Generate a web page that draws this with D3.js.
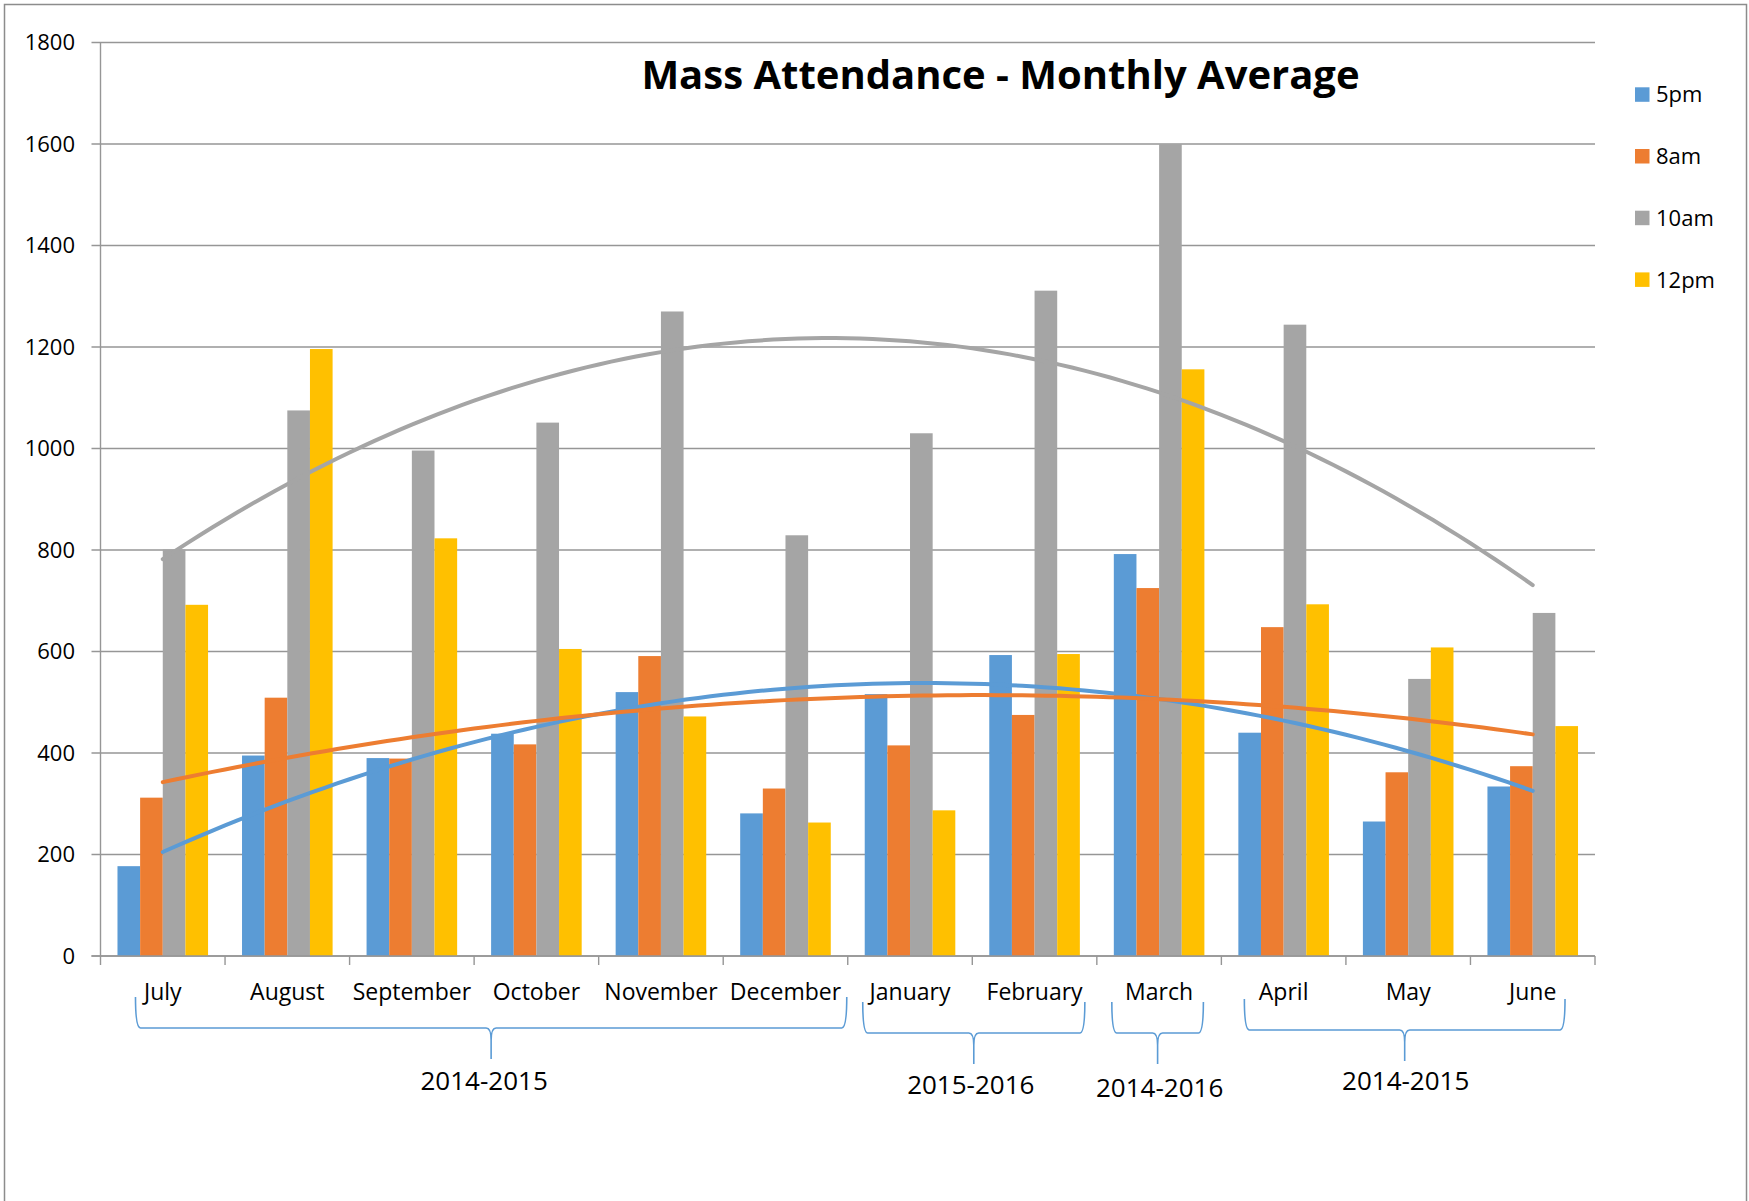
<!DOCTYPE html>
<html>
<head>
<meta charset="utf-8">
<script src="https://cdnjs.cloudflare.com/ajax/libs/d3/7.8.5/d3.min.js"></script>
<style>
  body { margin: 0; background: #fff; }
  text { font-family: "Open Sans", "Noto Sans", sans-serif; fill: #000; }
</style>
</head>
<body>
<svg id="chart"></svg>
<script>
var months = ["July", "August", "September", "October", "November", "December",
              "January", "February", "March", "April", "May", "June"]
var seriesNames = ["5pm", "8am", "10am", "12pm"]
var pm5  = [177, 395, 390, 438, 520, 281, 516, 593, 792, 440, 265, 334]
var am8  = [312, 509, 389, 417, 591, 330, 415, 475, 725, 648, 362, 374]
var am10 = [801, 1075, 996, 1051, 1270, 829, 1030, 1311, 1600, 1244, 546, 676]
var pm12 = [692, 1196, 823, 605, 472, 263, 287, 595, 1156, 693, 608, 453]
var yTicks = [0, 200, 400, 600, 800, 1000, 1200, 1400, 1600, 1800]

var seasonLabels = ["2014-2015", "2015-2016", "2014-2016", "2014-2015"]
var seasonFirst = [0, 6, 8, 9]
var seasonLast = [5, 7, 8, 11]

var colors = ["#5b9bd5", "#ed7d31", "#a5a5a5", "#ffc000"]
var allSeries = [pm5, am8, am10, pm12]

var width = 1749, height = 1201
var plotLeft = 100.5, plotRight = 1595, plotTop = 42.5, plotBottom = 956

var svg = d3.select("#chart")
	.attr("width", width)
	.attr("height", height)

// outer frame of the chart (bottom edge lies past the picture)
svg.append("rect")
	.attr("x", 4.5).attr("y", 4.5)
	.attr("width", 1742).attr("height", 1220)
	.attr("fill", "none")
	.attr("stroke", "#8c8c8c")
	.attr("stroke-width", 1.5)

var xScale = d3.scaleBand()
	.domain(months)
	.range([plotLeft, plotRight])
	.paddingInner(0.2727)
	.paddingOuter(0.2727 / 2)

var xSeries = d3.scaleBand()
	.domain(seriesNames)
	.range([0, xScale.bandwidth()])

var yScale = d3.scaleLinear()
	.domain([0, 1800])
	.range([plotBottom, plotTop])

// gridlines + y labels
svg.selectAll(".grid")
	.data(yTicks)
	.join("line")
	.attr("class", "grid")
	.attr("x1", plotLeft - 9).attr("x2", plotRight)
	.attr("y1", function(d){ return yScale(d) })
	.attr("y2", function(d){ return yScale(d) })
	.attr("stroke", "#969696")
	.attr("stroke-width", 1.4)

svg.selectAll(".ylab")
	.data(yTicks)
	.join("text")
	.attr("class", "ylab")
	.attr("x", 75)
	.attr("y", function(d){ return yScale(d) })
	.attr("dy", "0.36em")
	.attr("text-anchor", "end")
	.style("font-size", "22px")
	.text(function(d){ return d })

// bars
var groups = svg.selectAll(".month")
	.data(months)
	.join("g")
	.attr("class", "month")
	.attr("transform", function(d){ return "translate(" + xScale(d) + ",0)" })

groups.selectAll("rect")
	.data(function(d, i){
		return seriesNames.map(function(s, j){ return {name: s, value: allSeries[j][i], color: colors[j]} })
	})
	.join("rect")
	.attr("x", function(d){ return xSeries(d.name) })
	.attr("width", xSeries.bandwidth())
	.attr("y", function(d){ return yScale(d.value) })
	.attr("height", function(d){ return plotBottom - yScale(d.value) })
	.attr("fill", function(d){ return d.color })

// axes lines
svg.append("line")
	.attr("x1", plotLeft).attr("x2", plotLeft)
	.attr("y1", plotTop).attr("y2", plotBottom)
	.attr("stroke", "#969696").attr("stroke-width", 1.4)

svg.append("line")
	.attr("x1", plotLeft - 9).attr("x2", plotRight)
	.attr("y1", plotBottom).attr("y2", plotBottom)
	.attr("stroke", "#969696").attr("stroke-width", 1.6)

var step = xScale.step()
svg.selectAll(".xtick")
	.data(d3.range(months.length + 1))
	.join("line")
	.attr("class", "xtick")
	.attr("x1", function(d){ return plotLeft + d * step })
	.attr("x2", function(d){ return plotLeft + d * step })
	.attr("y1", plotBottom).attr("y2", plotBottom + 9)
	.attr("stroke", "#969696").attr("stroke-width", 1.4)

svg.selectAll(".xlab")
	.data(months)
	.join("text")
	.attr("class", "xlab")
	.attr("x", function(d){ return xScale(d) + xScale.bandwidth() / 2 })
	.attr("y", 999.5)
	.attr("text-anchor", "middle")
	.style("font-size", "23px")
	.text(function(d){ return d })

// polynomial (order 2) trendlines, like the spreadsheet ones
function polyfit2(ys) {
	var n = ys.length, mean = (n + 1) / 2
	var s2 = 0, s4 = 0, sy = 0, sty = 0, st2y = 0
	ys.forEach(function(y, i){
		var t = i + 1 - mean
		s2 += t * t; s4 += t * t * t * t
		sy += y; sty += t * y; st2y += t * t * y
	})
	var c = (n * st2y - s2 * sy) / (n * s4 - s2 * s2)
	var b = sty / s2
	var a = (sy - c * s2) / n
	return function(x){ var t = x - mean; return a + b * t + c * t * t }
}

var xTrend = d3.scaleLinear()
	.domain([1, months.length])
	.range([xScale(months[0]) + xScale.bandwidth() / 2,
	        xScale(months[months.length - 1]) + xScale.bandwidth() / 2])

var trendX = d3.range(1, months.length + 0.001, 0.1)
var line = d3.line()
	.x(function(d){ return xTrend(d[0]) })
	.y(function(d){ return yScale(d[1]) })

;[0, 1, 2].forEach(function(j){
	var f = polyfit2(allSeries[j])
	svg.append("path")
		.attr("d", line(trendX.map(function(x){ return [x, f(x)] })))
		.attr("fill", "none")
		.attr("stroke", colors[j])
		.attr("stroke-width", 4)
		.attr("stroke-linecap", "round")
})

// title
svg.append("text")
	.attr("x", 1000.5)
	.attr("y", 89)
	.attr("text-anchor", "middle")
	.style("font-size", "40px")
	.style("font-weight", "bold")
	.text("Mass Attendance - Monthly Average")

// legend
var legend = svg.selectAll(".leg")
	.data(seriesNames)
	.join("g")
	.attr("class", "leg")
	.attr("transform", function(d, i){ return "translate(1635," + (94.5 + i * 61.7) + ")" })

legend.append("rect")
	.attr("x", 0).attr("y", -7.2)
	.attr("width", 14.5).attr("height", 14.5)
	.attr("fill", function(d, i){ return colors[i] })

legend.append("text")
	.attr("x", 21)
	.attr("dy", "0.36em")
	.style("font-size", "22px")
	.text(function(d){ return d })

// season braces under the month labels
var braceNudge = [[18, 16], [-2, 5], [-2, -1], [6, -13]]
var braceDrop = [0, 5, 5, 2]
var labelShift = [-7, -3, 2, 1]
var labelDrop = [0, 4, 7, 0]

function bracePath(x0, x1, yTop, yMid, yTip) {
	var xm = (x0 + x1) / 2, r = 5
	return "M" + x0 + "," + yTop +
		" Q" + x0 + "," + yMid + " " + (x0 + r) + "," + yMid +
		" L" + (xm - r) + "," + yMid +
		" Q" + xm + "," + yMid + " " + xm + "," + (yMid + 12) +
		" L" + xm + "," + yTip +
		" M" + xm + "," + (yMid + 12) +
		" Q" + xm + "," + yMid + " " + (xm + r) + "," + yMid +
		" L" + (x1 - r) + "," + yMid +
		" Q" + x1 + "," + yMid + " " + x1 + "," + yTop
}

seasonLabels.forEach(function(lab, k){
	var x0 = xScale(months[seasonFirst[k]]) + braceNudge[k][0]
	var x1 = xScale(months[seasonLast[k]]) + xScale.bandwidth() + braceNudge[k][1]
	var dy = braceDrop[k]
	svg.append("path")
		.attr("d", bracePath(x0, x1, 997 + dy, 1028 + dy, 1059 + dy))
		.attr("fill", "none")
		.attr("stroke", "#5b9bd5")
		.attr("stroke-width", 1.6)
	svg.append("text")
		.attr("x", (x0 + x1) / 2 + labelShift[k])
		.attr("y", 1090 + labelDrop[k])
		.attr("text-anchor", "middle")
		.style("font-size", "26px")
		.text(lab)
})
</script>
</body>
</html>
